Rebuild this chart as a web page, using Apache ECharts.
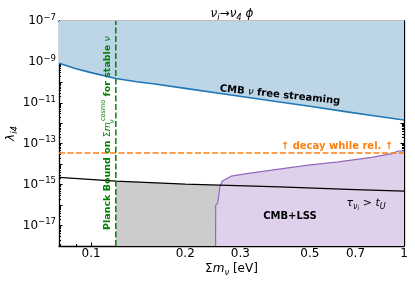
<!DOCTYPE html>
<html><head><meta charset="utf-8">
<script src="https://cdn.jsdelivr.net/npm/echarts@6/dist/echarts.min.js"></script>
<style>html,body{margin:0;padding:0;background:#fff}#c{width:415px;height:283px}</style>
</head><body><div id="c"></div>
<script>
// ---------------- data ----------------
const xRange = [0.079, 1.0];          // Σm_ν [eV]
const yRange = [1e-18, 1e-7];         // λ_i4
// CMB ν free streaming bound (excluded above)
const fsMass   = [0.079, 0.089, 0.1, 0.12, 0.14, 0.16, 0.2, 0.28, 0.4, 0.5, 0.65, 0.8, 1.0];
const fsLambda = [8.5e-10, 4.8e-10, 3.0e-10, 1.55e-10, 1.07e-10, 8.3e-11, 5.1e-11, 2.4e-11, 1.1e-11, 6.8e-12, 3.7e-12, 2.35e-12, 1.45e-12];
// τ_ν > t_U line
const lifeMass   = [0.079, 0.12, 0.2, 0.4, 0.7, 1.0];
const lifeLambda = [2.24e-15, 1.5e-15, 1.05e-15, 7.8e-16, 5.75e-16, 4.8e-16];
// decay while relativistic
const relMass   = [0.079, 1.0];
const relLambda = [3.5e-14, 3.5e-14];
// CMB+LSS bound (excluded below)
const lssMass   = [0.2500, 0.2502, 0.254, 0.258, 0.2627, 0.28, 0.318, 0.378, 0.494, 0.617, 0.788, 0.914, 0.959, 1.0];
const lssLambda = [1e-18, 9.8e-17, 1.3e-16, 7.8e-16, 1.5e-15, 2.6e-15, 3.55e-15, 5.1e-15, 8.9e-15, 1.29e-14, 2.14e-14, 3.3e-14, 4.4e-14, 4.5e-14];
// Planck bound
const planckMass = 0.12;
// ticks
const xLabelTicks = [0.1, 0.2, 0.3, 0.5, 0.7, 1];
const xMinorTicks = [0.08, 0.09, 0.4, 0.6, 0.8, 0.9];
const yLabelExps = [-17, -15, -13, -11, -9, -7];

// ---------------- helpers ----------------
const L = Math.log10;
const FF = 'DejaVu Sans';
const pts = (xs, ys) => xs.map((x, i) => [L(x), L(ys[i])]);
function logInterp(xs, ys, x) {
  const lx = L(x);
  for (let i = 0; i < xs.length - 1; i++) {
    const a = L(xs[i]), b = L(xs[i + 1]);
    if (lx >= a && lx <= b) {
      const t = (lx - a) / (b - a);
      return L(ys[i]) + t * (L(ys[i + 1]) - L(ys[i]));
    }
  }
  return L(ys[ys.length - 1]);
}
const xMin = L(xRange[0]), xMax = L(xRange[1]);
const yMin = Math.round(L(yRange[0])), yMax = Math.round(L(yRange[1]));
const yMajor = [], yMinor = [];
for (let n = yMin; n <= yMax; n++) {
  yMajor.push(n);
  if (n < yMax) for (let k = 2; k <= 9; k++) yMinor.push(n + L(k));
}
// gray region: below lifetime line, right of Planck bound, up to where CMB+LSS takes over
const grayEnd = 0.27;
const grayMass = [planckMass].concat(lifeMass.filter(m => m > planckMass && m < grayEnd), [grayEnd]);
const grayData = grayMass.map(m => [L(m), logInterp(lifeMass, lifeLambda, m)]);

const tickStyle = { color: '#000', width: 1 };
function xAx(pos, major) {
  return {
    type: 'value', min: xMin, max: xMax, position: pos,
    splitLine: { show: false },
    axisLine: { show: major, onZero: false, lineStyle: { color: '#000', width: 1.3 } },
    axisTick: { show: true, inside: true, length: major ? 3.5 : 2,
      customValues: (major ? xLabelTicks : xMinorTicks).map(L), lineStyle: tickStyle },
    axisLabel: (major && pos === 'bottom') ? {
      show: true, customValues: xLabelTicks.map(L), margin: 2,
      fontFamily: FF, fontSize: 12, color: '#000',
      formatter: v => String(parseFloat(Math.pow(10, v).toPrecision(2)))
    } : { show: false }
  };
}
function yAx(pos, major) {
  return {
    type: 'value', min: yMin, max: yMax, position: pos,
    splitLine: { show: false },
    axisLine: { show: major, onZero: false, lineStyle: { color: '#000', width: 1.3 } },
    axisTick: { show: true, inside: true, length: major ? 3.5 : 2,
      customValues: major ? yMajor : yMinor, lineStyle: tickStyle },
    axisLabel: (major && pos === 'left') ? {
      show: true, customValues: yLabelExps, margin: 3,
      formatter: v => '{b|10}{s|\u2212' + Math.abs(Math.round(v)) + '}',
      rich: {
        b: { fontFamily: FF, fontSize: 12, color: '#000', lineHeight: 16 },
        s: { fontFamily: FF, fontSize: 8.5, color: '#000', lineHeight: 9, verticalAlign: 'top' }
      }
    } : { show: false }
  };
}

const xAxes = [xAx('bottom', true), xAx('bottom', false), xAx('top', true), xAx('top', false)];
xAxes[0].name = '{n|\u03a3}{i|m}{sub|\u03bd}{n| [eV]}';
xAxes[0].nameLocation = 'middle';
xAxes[0].nameGap = 15;
xAxes[0].nameMoveOverlap = false;
xAxes[0].nameTextStyle = { rich: {
  n: { fontFamily: FF, fontSize: 12, color: '#000', lineHeight: 16 },
  i: { fontFamily: FF, fontSize: 12, color: '#000', fontStyle: 'italic', lineHeight: 16 },
  sub: { fontFamily: FF, fontSize: 8.5, color: '#000', fontStyle: 'italic', lineHeight: 9, verticalAlign: 'bottom' }
}};
const yAxes = [yAx('left', true), yAx('left', false), yAx('right', true), yAx('right', false)];
yAxes[0].name = '{i|\u03bb}{sub|i4}';
yAxes[0].nameLocation = 'middle';
yAxes[0].nameGap = 40;
yAxes[0].nameMoveOverlap = false;
yAxes[0].nameTextStyle = { rich: {
  i: { fontFamily: FF, fontSize: 12, color: '#000', fontStyle: 'italic', lineHeight: 16 },
  sub: { fontFamily: FF, fontSize: 8.5, color: '#000', fontStyle: 'italic', lineHeight: 9, verticalAlign: 'bottom' }
}};

const chart = echarts.init(document.getElementById('c'), null, { renderer: 'canvas' });
chart.setOption({
  animation: false,
  backgroundColor: '#fff',
  grid: { left: 59, right: 11, top: 21, bottom: 37, containLabel: false, outerBoundsMode: 'none' },
  xAxis: xAxes,
  yAxis: yAxes,
  series: [
    { name: 'CMB free streaming', type: 'line', data: pts(fsMass, fsLambda), showSymbol: false, z: 2,
      lineStyle: { color: '#1f77b4', width: 1.6 }, areaStyle: { color: '#bcd6e8', opacity: 1, origin: 'end' } },
    { name: 'stable gray', type: 'line', data: grayData, showSymbol: false, z: 1,
      lineStyle: { width: 0 }, areaStyle: { color: '#cccccc', opacity: 1, origin: 'start' } },
    { name: 'CMB+LSS', type: 'line', data: pts(lssMass, lssLambda), showSymbol: false, z: 2,
      lineStyle: { color: '#9467bd', width: 1.2 }, areaStyle: { color: '#dfd1eb', opacity: 1, origin: 'start' } },
    { name: 'tau > tU', type: 'line', data: pts(lifeMass, lifeLambda), showSymbol: false, z: 3,
      lineStyle: { color: '#000', width: 1.3 } },
    { name: 'decay while rel', type: 'line', data: pts(relMass, relLambda), showSymbol: false, z: 3,
      lineStyle: { color: '#ff7f0e', width: 1.5, type: [6, 2.5] } },
    { name: 'Planck', type: 'line', data: [[L(planckMass), yMin], [L(planckMass), yMax]], showSymbol: false, z: 4,
      lineStyle: { color: '#008000', width: 1.5, type: [6, 2.5] } }
  ].map(s => Object.assign(s, { silent: true, emphasis: { disabled: true } }))
});

// ---------------- text annotations ----------------
const bold = (size, color) => ({ fontFamily: FF, fontSize: size, fontWeight: 'bold', fill: color });
const reg = (size, color, it) => ({ fontFamily: FF, fontSize: size, fill: color, fontStyle: it ? 'italic' : 'normal' });
const txt = [
  { type: 'text', x: 232, y: 14, style: {
      text: '{i|\u03bd}{s|i}{n|\u2192}{i|\u03bd}{s|4}{n| }{i|\u03d5}', align: 'center', verticalAlign: 'middle',
      rich: {
        i: Object.assign(reg(12, '#000', true), { lineHeight: 16 }),
        n: Object.assign(reg(12, '#000'), { lineHeight: 16 }),
        s: Object.assign(reg(8.5, '#000', true), { lineHeight: 9, verticalAlign: 'bottom' })
      } } },
  { type: 'text', x: 280, y: 95, rotation: -6 * Math.PI / 180, style: {
      text: '{b|CMB }{i|\u03bd}{b| free streaming}', align: 'center', verticalAlign: 'middle',
      rich: { b: bold(10, '#000'), i: reg(10, '#000', true) } } },
  { type: 'text', x: 337, y: 146, style: {
      text: '\u2191 decay while rel. \u2191', align: 'center', verticalAlign: 'middle',
      font: 'bold 10px "DejaVu Sans"', fill: '#ff7f0e' } },
  { type: 'text', x: 366, y: 203, style: {
      text: '{i|\u03c4}{s|\u03bd}{ss|i}{n| > }{i|t}{s|U}', align: 'center', verticalAlign: 'middle',
      rich: {
        i: Object.assign(reg(11, '#000', true), { lineHeight: 16 }),
        n: Object.assign(reg(11, '#000'), { lineHeight: 16 }),
        s: Object.assign(reg(8, '#000', true), { lineHeight: 9, verticalAlign: 'bottom' }),
        ss: Object.assign(reg(6, '#000', true), { lineHeight: 6, verticalAlign: 'bottom' })
      } } },
  { type: 'text', x: 290, y: 216, style: {
      text: 'CMB+LSS', align: 'center', verticalAlign: 'middle',
      font: 'bold 10px "DejaVu Sans"', fill: '#000' } },
  { type: 'text', x: 107.5, y: 133, rotation: Math.PI / 2, style: {
      text: '{b|Planck Bound on }{n|\u03a3}{i|m}{sub|\u03bd}{sup|cosmo}{b| for stable }{i|\u03bd}',
      align: 'center', verticalAlign: 'middle',
      rich: {
        b: Object.assign(bold(9.5, '#008000'), { lineHeight: 16 }),
        n: Object.assign(reg(9.5, '#008000'), { lineHeight: 16 }),
        i: Object.assign(reg(9.5, '#008000', true), { lineHeight: 16 }),
        sub: Object.assign(reg(6.5, '#008000', true), { lineHeight: 7, verticalAlign: 'bottom', width: 1 }),
        sup: Object.assign(reg(6.5, '#008000'), { lineHeight: 7, verticalAlign: 'top' })
      } } }
].map(g => Object.assign(g, { z: 100, silent: true }));
chart.setOption({ graphic: txt });
</script>
</body></html>
